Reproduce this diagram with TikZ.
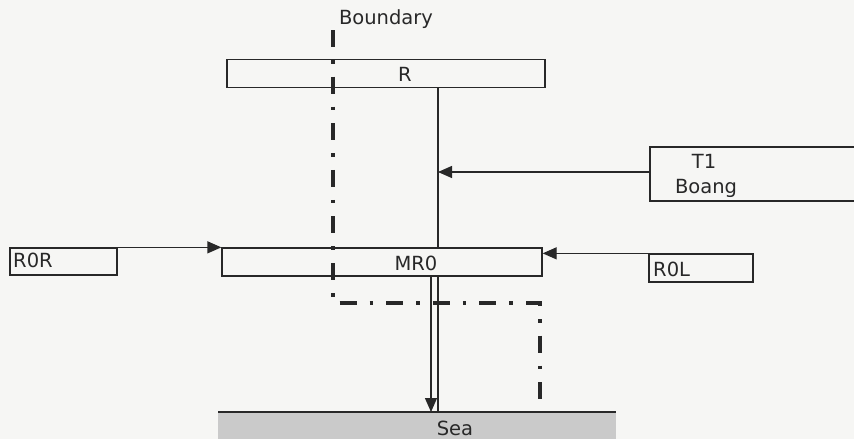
\documentclass[tikz,border=0pt]{standalone}
\usepackage{fontspec}
\setmainfont{DejaVu Sans}
\usetikzlibrary{arrows.meta}
\definecolor{bgcol}{RGB}{246,246,244}
\definecolor{seagray}{RGB}{202,202,202}
\definecolor{ink}{RGB}{40,40,40}
\begin{document}
\begin{tikzpicture}[x=1pt,y=-1pt,
  box/.style={draw=ink, line width=1.3pt, rectangle, inner sep=0pt},
  lbl/.style={font=\fontsize{19.5}{22}\selectfont, inner sep=0pt, text=ink},
  flow/.style={draw=ink, line width=1.3pt, -{Triangle[length=14pt,width=12pt]}},
  plain/.style={draw=ink, line width=1.3pt},
  bnd/.style={draw=ink, line width=3.6pt, dash pattern=on 17pt off 13pt on 3.6pt off 13pt},
]
\fill[bgcol] (0,0) rectangle (854,439);
\useasboundingbox (0,0) rectangle (854,439);
\clip (0,0) rectangle (854,439);

% sea
\node[fill=seagray, minimum width=398pt, minimum height=28pt, inner sep=0pt, anchor=north west] (Sea) at (218,412) {};
\draw[plain] (Sea.north west) -- (Sea.north east);
\node[lbl] (Seat) at (455,428) {Sea};

% boxes
\node[box, minimum width=318pt, minimum height=28pt] (R) at (386,73.5) {};
\node[lbl] (Rt) at (405,74) {R};
\node[box, minimum width=320pt, minimum height=28pt] (MR0) at (382,262) {};
\node[lbl] (MR0t) at (416,263) {MR0};
\node[box, minimum width=107pt, minimum height=27pt] (R0R) at (63.5,261.5) {};
\node[lbl, anchor=west] (R0Rt) at (13,260) {R0R};
\node[box, minimum width=104pt, minimum height=28pt] (R0L) at (701,268) {};
\node[lbl, anchor=west] (R0Lt) at (653,269) {R0L};
\node[box, minimum width=220pt, minimum height=54pt] (T1) at (760,174) {};
\node[lbl] (T1t) at (704,161) {T1};
\node[lbl] (T1b) at (706,188) {Boang};

% boundary
\node[lbl] (Bt) at (386,19) {Boundary};
\coordinate (b1) at (333,30);
\coordinate (b2) at (333,303);
\coordinate (b3) at (540,303);
\coordinate (b4) at (540,413);
\draw[bnd] (b1) -- (b2) -- (b3) -- (b4);

% connectors
\coordinate (vx) at (438,0);
\coordinate (vx2) at (431,0);
\draw[plain] (vx |- R.south) -- (vx |- MR0.north);
\draw[flow] (T1.west |- 0,172) -- (vx |- 0,172);
\draw[flow] (R0R.north east) -- (R0R.north east -| MR0.west);
\draw[flow] (R0L.north west) -- (R0L.north west -| MR0.east);
\draw[plain] (vx |- MR0.south) -- (vx |- Sea.north);
\draw[flow] (vx2 |- MR0.south) -- (vx2 |- Sea.north);
\end{tikzpicture}
\end{document}
